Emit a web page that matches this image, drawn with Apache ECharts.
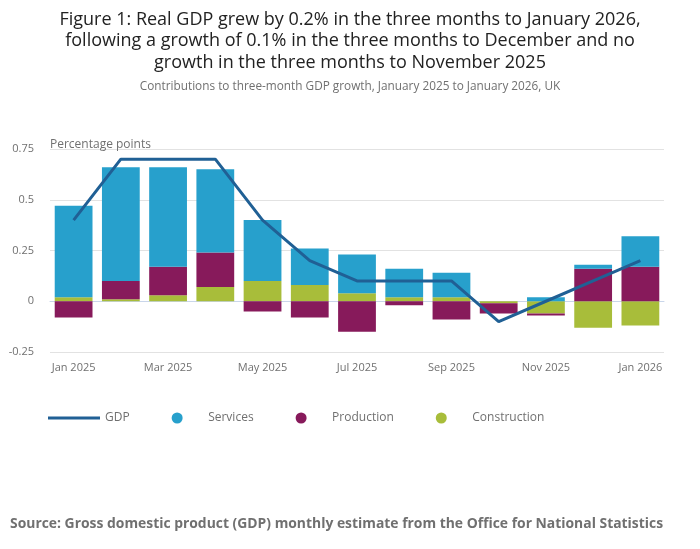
<!DOCTYPE html>
<html>
<head>
<meta charset="UTF-8">
<title>Contributions to three-month GDP growth</title>
<script type="text/javascript" src="https://cdn.jsdelivr.net/npm/echarts@6/dist/echarts.min.js"></script>
<style>
	html, body { margin: 0; padding: 0; background: #fff; }
</style>
</head>
<body>
	<div id="div" style="width:700px;height:549px"></div>

	<script type="text/javascript">
		var months = [ 'Jan 2025', 'Feb 2025', 'Mar 2025', 'Apr 2025', 'May 2025', 'Jun 2025', 'Jul 2025',
				'Aug 2025', 'Sep 2025', 'Oct 2025', 'Nov 2025', 'Dec 2025', 'Jan 2026' ];
		var gdp = [ 0.4, 0.7, 0.7, 0.7, 0.4, 0.2, 0.1, 0.1, 0.1, -0.1, 0.0, 0.1, 0.2 ];
		var services = [ 0.45, 0.56, 0.49, 0.41, 0.30, 0.18, 0.19, 0.14, 0.12, 0.00, 0.02, 0.02, 0.15 ];
		var production = [ -0.08, 0.09, 0.14, 0.17, -0.05, -0.08, -0.15, -0.02, -0.09, -0.05, -0.01, 0.16, 0.17 ];
		var construction = [ 0.02, 0.01, 0.03, 0.07, 0.10, 0.08, 0.04, 0.02, 0.02, -0.01, -0.06, -0.13, -0.12 ];
		var yTicks = { min : -0.25, max : 0.75, step : 0.25 };

		var font = 'Open Sans';
		var grey = '#707070';

		var mychart = echarts.init(document.getElementById('div'));
		var option = {
			textStyle : {
				fontFamily : font
			},
			title : [ {
				text : 'Figure 1: Real GDP grew by 0.2% in the three months to January 2026,\nfollowing a growth of 0.1% in the three months to December and no\ngrowth in the three months to November 2025',
				left : 345,
				top : 4,
				textAlign : 'center',
				textStyle : {
					fontFamily : font,
					fontSize : 18,
					fontWeight : 'normal',
					color : '#222',
					lineHeight : 21.5
				}
			}, {
				text : 'Contributions to three-month GDP growth, January 2025 to January 2026, UK',
				left : 345,
				top : 76,
				textAlign : 'center',
				textStyle : {
					fontFamily : font,
					fontSize : 11.8,
					fontWeight : 'normal',
					color : grey
				}
			}, {
				text : 'Source: Gross domestic product (GDP) monthly estimate from the Office for National Statistics',
				left : 5,
				top : 512,
				textStyle : {
					fontFamily : font,
					fontSize : 13.9,
					fontWeight : 'bold',
					color : grey
				}
			} ],
			legend : {
				left : 48,
				top : 412,
				padding : 0,
				itemWidth : 52,
				itemHeight : 11,
				itemGap : 42,
				textStyle : {
					fontFamily : font,
					fontSize : 12,
					color : grey
				},
				data : [ {
					name : 'GDP',
					icon : 'path://M0,0H52V3H0Z'
				}, {
					name : 'Services',
					icon : 'circle'
				}, {
					name : 'Production',
					icon : 'circle'
				}, {
					name : 'Construction',
					icon : 'circle'
				} ]
			},
			grid : {
				left : 50,
				right : 36,
				top : 149,
				height : 203,
				containLabel : false
			},
			xAxis : {
				type : 'category',
				data : months,
				axisLine : {
					lineStyle : {
						color : '#c9d6ea'
					}
				},
				axisTick : {
					alignWithLabel : true,
					interval : 1,
					length : 6,
					lineStyle : {
						color : '#c9d6ea'
					}
				},
				axisLabel : {
					interval : 1,
					color : grey,
					fontSize : 11,
					margin : 10
				}
			},
			yAxis : {
				type : 'value',
				min : yTicks.min,
				max : yTicks.max,
				interval : yTicks.step,
				name : 'Percentage points',
				nameLocation : 'end',
				nameGap : 4,
				nameTextStyle : {
					align : 'left',
					verticalAlign : 'middle',
					color : grey,
					fontSize : 12
				},
				axisLine : {
					show : false
				},
				axisTick : {
					show : false
				},
				axisLabel : {
					color : grey,
					fontSize : 11,
					margin : 16
				},
				splitLine : {
					lineStyle : {
						color : '#e2e2e2'
					}
				}
			},
			series : [ {
				name : 'Construction',
				type : 'bar',
				stack : 'total',
				barCategoryGap : '20%',
				itemStyle : {
					color : '#a8bd3a'
				},
				data : construction
			}, {
				name : 'Production',
				type : 'bar',
				stack : 'total',
				itemStyle : {
					color : '#871a5b'
				},
				data : production
			}, {
				name : 'Services',
				type : 'bar',
				stack : 'total',
				itemStyle : {
					color : '#27a0cc'
				},
				data : services
			}, {
				name : 'GDP',
				type : 'line',
				symbol : 'none',
				z : 5,
				lineStyle : {
					color : '#206095',
					width : 3
				},
				itemStyle : {
					color : '#206095'
				},
				data : gdp
			} ]
		};
		mychart.setOption(option);
	</script>
</body>
</html>
